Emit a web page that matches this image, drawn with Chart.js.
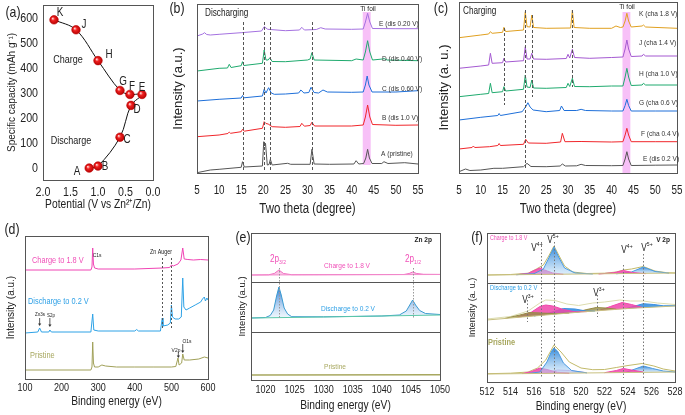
<!DOCTYPE html>
<html><head><meta charset="utf-8">
<script src="https://cdn.jsdelivr.net/npm/chart.js@4.4.0/dist/chart.umd.min.js"></script>
<style>
html,body{margin:0;padding:0;background:#fff;}
#wrap{position:relative;width:685px;height:415px;overflow:hidden;background:#fff;}
canvas{position:absolute;left:0;top:0;}
</style></head><body><div id="wrap">
<canvas id="ca" width="685" height="415"></canvas>
<canvas id="cb" width="685" height="415"></canvas>
<canvas id="cc" width="685" height="415"></canvas>
<canvas id="cd" width="685" height="415"></canvas>
<canvas id="ce" width="685" height="415"></canvas>
<canvas id="cf" width="685" height="415"></canvas>
</div>
<script>
// ---------------- DATA ----------------
// (a) capacity vs potential
const capLabels = ['A','B','C','D','E','F','G','H','J','K'];
const capPotential = [1.16, 1.0, 0.6, 0.4, 0.2, 0.42, 0.6, 1.0, 1.4, 1.8];
const capCapacity  = [0, 8, 124, 252, 296, 296, 312, 432, 556, 596];
const aXTicks = [2.0, 1.5, 1.0, 0.5, 0.0];
const aYTicks = [0, 100, 200, 300, 400, 500, 600];

// (b) XRD discharging (2theta, intensity a.u.)
const bA = [[5,0.3],[8,3],[10,3.7],[15,5.7],[15.3,11.3],[15.7,6],[19.8,7],[20.1,31.3],[20.3,27],[20.5,29.7],[20.9,8],[21.3,8.5],[21.6,13.7],[22,8],[25.5,9.7],[26.2,8.7],[30.6,8.7],[31,23.7],[31.5,9],[35,8.7],[40.5,9],[41,12.3],[41.6,9],[42.7,9.5],[43.2,15],[43.6,23.7],[44,15],[44.6,9.5],[46.8,9.5],[47.3,11.3],[48.2,9.5],[52,10.3],[55,9]];
const bB = [[5,36.3],[10,38],[12,39.5],[12.3,41],[12.6,39.7],[15,41.3],[15.3,43.7],[15.7,41.8],[19.8,44.7],[20.2,51.3],[20.6,49.5],[21.1,49],[22,46.3],[25,45.7],[28.3,46.5],[28.7,49.7],[29.3,46.8],[30.6,47.5],[31,50.7],[31.6,47],[40,47],[42.6,48],[43.1,56],[43.6,68],[44.1,56],[44.7,48.5],[50,47.7],[55,48]];
const bC = [[5,72],[10,73.7],[15,75],[15.3,77.5],[15.6,75.2],[19.8,77],[20.2,83.7],[20.6,80],[21.2,85.3],[21.8,80],[22.5,78.7],[25,79],[28,80],[28.5,83],[29.2,80],[30.3,80.5],[30.8,85.7],[31.5,80.5],[32.5,80],[33.5,83],[34.5,81],[40,80.7],[42.6,81],[43.1,88],[43.5,97],[43.9,88],[44.6,81],[50,81],[55,82.3]];
const bD = [[5,102],[10,104.7],[11.9,105],[12.3,108.7],[12.7,105.5],[15,107.3],[15.3,111.3],[15.6,107.5],[19.8,109.7],[20.2,123],[20.6,113],[21.1,113],[21.5,115.3],[22,111.5],[25,111.3],[30,113],[30.6,114],[31,120.3],[31.5,113],[40,112.3],[41,114],[42.6,113],[43.1,121],[43.6,132.3],[44.1,121],[44.7,113],[47,114],[47.3,114.5],[48,113],[55,112.3]];
const bE = [[5,137],[6.3,139],[6.7,140.3],[7.2,138.5],[8,138],[10,138.7],[15,140.3],[19.6,142],[20.2,146.3],[21,143.7],[25,142.3],[28.2,143],[28.7,145.7],[29.3,143],[32,143.5],[33,145.3],[34,144],[40,143.7],[42.6,144],[43.1,151],[43.6,159.7],[44.1,151],[44.7,144.5],[50,144.3],[55,144.3]];
const bNames = ['A (pristine)','B (dis 1.0 V)','C (dis 0.60 V)','D (dis 0.40 V)','E (dis 0.20 V)'];

// (c) XRD charging
const cE = [[5,1.3],[6.5,4],[7.5,2.5],[10,3],[13,4.7],[15,4.7],[19.8,6.3],[20.6,9.7],[21.5,6.5],[25,6.3],[28.2,7],[28.7,9],[29.4,7],[32,7.2],[33,8.7],[34,7.5],[40,7.3],[42.6,7.5],[43.1,14],[43.5,21.3],[43.9,14],[44.5,7.5],[50,7.8],[55,8]];
const cF = [[5,24],[8,25.5],[8.3,27],[8.6,25.5],[12,26.3],[13.9,27.5],[14.2,29.5],[14.5,27.5],[19.8,28.7],[20.3,33.7],[20.9,30],[25,29.7],[28.3,31],[28.7,39.7],[29.3,31.3],[33,31.5],[40,31],[42.6,31.3],[43.1,38],[43.5,44.7],[43.9,38],[44.5,31.3],[50,31.3],[55,31.3]];
const cG = [[5,53],[10,55.7],[13.9,57.5],[14.2,59.5],[14.5,57.5],[19.5,61.3],[20.4,67],[20.8,70.3],[21.3,66],[22,63],[25,61.3],[28.1,62.5],[28.5,67],[29.1,62.5],[32,62.5],[33,63.7],[34,62.5],[40,62],[42.6,62],[43.1,67.5],[43.5,73.7],[43.9,67.5],[44.5,62],[50,62],[55,62]];
const cH = [[5,76.3],[10,78.7],[11.8,79.5],[12.2,89.7],[12.6,80.3],[15,81.3],[15.3,86.3],[15.7,82],[19.8,83.7],[20.2,98],[20.6,86],[21.3,85.5],[21.7,93],[22.1,85],[25,84.7],[29.6,85.5],[30,89.7],[30.4,86.5],[31,94.7],[31.5,86.5],[35,86.3],[40,87],[42.6,87],[43.1,96],[43.5,104.7],[43.9,96],[44.5,87.5],[47,88],[47.3,89.7],[47.8,88],[55,88]];
const cJ = [[5,104.7],[10,107],[11.8,108],[12.2,119.7],[12.6,109.7],[15,110.3],[15.3,114.7],[15.7,111],[19.8,112.3],[20.2,126.3],[20.6,114],[21.3,114],[21.7,119.7],[22.1,114],[25,113.7],[29.6,114.5],[30,118.7],[30.4,115],[31,123.7],[31.5,115.5],[35,114.7],[40,115.5],[42.6,116],[43.1,124],[43.5,133],[43.9,124],[44.5,116.5],[47,117],[47.3,118.7],[47.8,117],[55,117]];
const cK = [[5,135.3],[10,138],[11.8,139],[12.2,141.3],[12.6,139.7],[15,140.7],[15.3,145.7],[15.7,141.5],[19.8,143],[20.2,161.3],[20.6,146.3],[21.3,146],[21.7,158],[22.1,145.5],[25,144.7],[30.6,145],[31,163],[31.4,145.5],[35,144.7],[40,144.7],[41,147],[42,145.5],[42.6,146],[43.1,152],[43.5,159.7],[43.9,152],[44.5,146],[47,147],[47.3,148],[47.8,146],[55,144.7]];
const cNames = ['E (dis 0.2 V)','F (cha 0.4 V)','G (cha 0.6 V)','H (cha 1.0 V)','J (cha 1.4 V)','K (cha 1.8 V)'];
const xrdTicks = [5,10,15,20,25,30,35,40,45,50,55];

// (d) XPS survey (binding energy eV, intensity)
const dPristine = [[100,9],[280,9],[283,12],[285,37],[287,16],[290,12],[300,12],[310,14],[320,13],[350,12],[400,12],[450,12],[500,12],[512,12.5],[518,21],[521,14],[528,16],[531,25],[535,19],[550,19],[575,20],[590,22],[600,21]];
const dDischarge = [[100,46],[135,47],[140,51],[145,47],[165,47],[168,49],[172,47],[280,47],[285,65],[288,49],[300,48],[400,48],[405,49.5],[410,48],[470,48],[475,61],[477,53],[490,54],[497,56],[500,74],[503,62],[510,60],[520,60],[527,62],[531,101],[534,72],[540,69],[550,71],[565,74],[580,77],[585,80],[590,82],[593,78],[597,81],[600,79]];
const dCharge = [[100,109],[280,109],[283,112],[285,131],[287,115],[290,111],[300,110],[400,110],[475,111],[495,111.5],[500,114],[505,113],[518,115],[522,117],[526,119],[531,131],[535,120],[545,119.5],[560,119],[580,119.5],[600,119]];
const dTicks = [100,200,300,400,500,600];

// (e) Zn 2p
const eChargeBase = [[1017.5,105],[1050,105.5]];
const eCharge = [[1017.5,105],[1020.5,105.2],[1021.5,106.5],[1022.3,110],[1023.1,106.5],[1024.5,105.3],[1043.8,105.5],[1044.7,106.5],[1045.3,108],[1046,106.5],[1047.2,105.7],[1050,105.6]];
const eDischargeBase = [[1017.5,62],[1030,63],[1050,65]];
const eDischarge = [[1017.5,62],[1020,62.5],[1020.8,64.5],[1021.4,70],[1021.9,84],[1022.3,93],[1022.7,85],[1023.2,72],[1023.8,66],[1024.5,63.3],[1030,63.2],[1040,64],[1043,65],[1044.2,69],[1044.8,75],[1045.3,80],[1045.8,75],[1046.5,69.5],[1047.5,66.5],[1050,65.5]];
const ePristine = [[1017.5,5],[1050,5.3]];
const eTicks = [1020,1025,1030,1035,1040,1045,1050];

// (f) V 2p
const fChargeBase = [[512,107],[528,109]];
const fChargeV5a = [[514.5,107.3],[516,108.3],[516.8,113],[517.3,125],[517.7,135],[518.1,125],[518.6,114],[519.5,109],[521,108]];
const fChargeV4a = [[514.5,107.3],[515.5,108.6],[516.1,112],[516.5,114],[516.9,112],[517.6,109],[518.5,107.8]];
const fChargeV4b = [[521.5,108],[522.8,109.3],[523.6,111.5],[524.4,109.5],[525.5,108.3]];
const fChargeV5b = [[523,108.2],[524.3,110],[525.3,115],[526.3,110.5],[527.5,108.8]];
const fChargeEnv = [[512,107],[514,107.5],[515.5,108.8],[516.2,113],[516.8,117],[517.3,127],[517.7,136],[518.1,127],[518.6,116],[519.3,110],[520.5,108.5],[522,108.8],[523,110],[523.6,112],[524.3,113],[525.3,115.5],[526.3,111],[527.3,109.3],[528,109]];
const fDisBase = [[512,62],[515,65],[520,70],[524,73.5],[528,76]];
const fDisV3a = [[513.5,63.5],[514.8,67],[515.6,69.5],[516.6,69],[517.8,68.4],[519,69]];
const fDisV4a = [[514.5,64.5],[515.8,70],[516.5,75.5],[517,77],[517.6,76],[518.5,72.5],[519.5,70.2],[520.5,70.4]];
const fDisV5a = [[516,66],[517.3,69],[518.5,73.5],[519.5,73],[520.5,70.8],[521.2,71]];
const fDisV3b = [[519.5,69.5],[520.5,72.5],[521.3,74.5],[522.1,74],[523,72.8]];
const fDisV4b = [[521.5,71.3],[522.5,75.5],[523.5,79.5],[524.3,77.5],[525.2,74.6]];
const fDisV5b = [[523.8,73.3],[524.6,76],[525.3,78.3],[526.2,77.5],[527,76.2],[528,76.3]];
const fDisEnv = [[512,63],[514,65.5],[515.5,71],[516.5,79],[517,82],[517.8,81.5],[518.8,78],[519.8,76.5],[521,79],[522,80],[523.3,82],[524.2,81],[525.3,81],[526.5,79],[528,77.5]];
const fPrBase = [[512,8],[528,10]];
const fPrV5a = [[515.5,8.5],[516.5,10],[517.1,20],[517.5,31],[517.7,34],[518,31],[518.5,19],[519.2,11.5],[520.5,9.1]];
const fPrV4a = [[515,8.4],[515.8,10.5],[516.5,14],[517.1,12.5],[518,9.7],[519,8.9]];
const fPrSat = [[516.8,8.6],[518,12],[519,11.5],[520.5,9.3]];
const fPrV4b = [[522,9.3],[523,11.5],[523.6,13.5],[524.3,12],[525.3,10]];
const fPrV5b = [[523.8,9.5],[524.6,13],[525.3,16],[526.1,13.5],[527,11],[528,10]];
const fPrEnv = [[512,8.3],[514,8.8],[515.5,10],[516.3,14],[517,22],[517.7,37],[518.3,30],[519,20],[520,14],[521,12.3],[522,12.5],[523,14.5],[524,16.5],[525.2,18.5],[526.2,16],[527,13],[528,11]];
const fTicks = [512,514,516,518,520,522,524,526,528];

// ---------------- RENDER ----------------
const FONT = '"Liberation Sans",Arial,sans-serif';
const SX = 0.82; // horizontal text compression (narrow lettering of the figure)
(function(){
  const P = CanvasRenderingContext2D.prototype, ft = P.fillText;
  P.fillText = function(t, x, y, mw){
    const m = this.getTransform();
    if (Math.abs(m.b) > 1e-6 || Math.abs(m.c) > 1e-6) return mw === undefined ? ft.call(this, t, x, y) : ft.call(this, t, x, y, mw);
    this.save(); this.translate(x, y); this.scale(SX, 1);
    if (mw === undefined) ft.call(this, t, 0, 0); else ft.call(this, t, 0, 0, mw / SX);
    this.restore();
  };
})();
Chart.defaults.font.family = FONT;
Chart.defaults.color = '#222';
const W = 685, H = 415;
const pts = a => a.map(p => ({x:p[0], y:p[1]}));
const DECO = {};

function drawText(ctx, o){
  const size = o.size || 10, wt = o.bold ? 'bold ' : '';
  const segs = Array.isArray(o.t) ? o.t : [[o.t]];
  const k0 = o.rot ? 1 : SX;
  ctx.save();
  ctx.translate(o.x, o.y); if (o.rot) ctx.rotate(o.rot);
  ctx.fillStyle = o.color || '#222'; ctx.textBaseline = 'middle'; ctx.textAlign = 'left';
  const parts = segs.map(s => { const k = s[1]; const fs = k ? size*0.62 : size; ctx.font = wt+fs+'px '+FONT; return {t:s[0], k, fs, w:ctx.measureText(s[0]).width*k0}; });
  const tw = parts.reduce((a,p)=>a+p.w,0);
  let x = o.align==='left' ? 0 : o.align==='right' ? -tw : -tw/2;
  for (const p of parts){ ctx.font = wt+p.fs+'px '+FONT; const dy = p.k==='sub' ? size*0.3 : p.k==='sup' ? -size*0.33 : 0; ctx.fillText(p.t, x, dy); x += p.w; }
  ctx.restore();
}

const decoPlugin = {
  id:'deco',
  beforeDatasetsDraw(chart){
    const d = DECO[chart.canvas.id]; if (!d) return;
    const ctx = chart.ctx, xs = chart.scales.x, ys = chart.scales.y;
    (d.bands||[]).forEach(b => {
      ctx.save(); ctx.fillStyle = b.color;
      const x1 = xs.getPixelForValue(b.x1), x2 = xs.getPixelForValue(b.x2);
      const y1 = ys.getPixelForValue(b.y1), y2 = ys.getPixelForValue(b.y2);
      ctx.fillRect(x1, y1, x2-x1, y2-y1); ctx.restore();
    });
  },
  afterDatasetsDraw(chart){
    const d = DECO[chart.canvas.id]; if (!d) return;
    const ctx = chart.ctx, xs = chart.scales.x, ys = chart.scales.y, ca = chart.chartArea;
    (d.vlines||[]).forEach(v => {
      ctx.save(); ctx.strokeStyle = v.color || '#555'; ctx.lineWidth = 1; ctx.setLineDash(v.dash || [3,2]);
      const x = Math.round(xs.getPixelForValue(v.x)) + 0.5;
      ctx.beginPath(); ctx.moveTo(x, ys.getPixelForValue(v.y1)); ctx.lineTo(x, ys.getPixelForValue(v.y2)); ctx.stroke(); ctx.restore();
    });
    (d.hlines||[]).forEach(h => {
      ctx.save(); ctx.strokeStyle = h.color || '#555'; ctx.lineWidth = 1;
      const y = Math.round(ys.getPixelForValue(h.y)) + 0.5;
      ctx.beginPath(); ctx.moveTo(ca.left, y); ctx.lineTo(ca.right, y); ctx.stroke(); ctx.restore();
    });
    (d.arrows||[]).forEach(a => {
      ctx.save(); ctx.strokeStyle = '#333'; ctx.fillStyle = '#333'; ctx.lineWidth = 0.8;
      const x = xs.getPixelForValue(a.x), y1 = ys.getPixelForValue(a.y1), y2 = ys.getPixelForValue(a.y2);
      ctx.beginPath(); ctx.moveTo(x, y1); ctx.lineTo(x, y2-2); ctx.stroke();
      ctx.beginPath(); ctx.moveTo(x-1.6, y2-2.5); ctx.lineTo(x+1.6, y2-2.5); ctx.lineTo(x, y2); ctx.closePath(); ctx.fill();
      ctx.restore();
    });
  },
  afterDraw(chart){
    const d = DECO[chart.canvas.id]; if (!d) return;
    const ctx = chart.ctx, ca = chart.chartArea;
    ctx.save(); ctx.strokeStyle = '#555'; ctx.lineWidth = 1;
    ctx.strokeRect(Math.round(ca.left)+0.5, Math.round(ca.top)+0.5, Math.round(ca.right-ca.left), Math.round(ca.bottom-ca.top));
    ctx.restore();
    (d.texts||[]).forEach(t => drawText(ctx, t));
  }
};
Chart.register(decoPlugin);

function mk(id, r, o){
  return new Chart(document.getElementById(id), {
    type:'line',
    data:{datasets:o.datasets},
    options:{
      responsive:false, animation:false, devicePixelRatio:1,
      layout:{padding:{left:r.x0-o.wy, top:r.y0, right:W-r.x1, bottom:H-r.y1-o.hx}},
      plugins:{legend:{display:false}, tooltip:{enabled:false}},
      elements:{point:{radius:0}, line:{borderWidth:1, tension:0}},
      scales:{
        x:{type:'linear', min:o.xmin, max:o.xmax, reverse:!!o.xrev,
          grid:{display:false, drawTicks:false}, border:{display:false},
          ticks:{padding:o.xpad, font:{size:o.xfs}, color:'#222', maxRotation:0, autoSkip:false, callback:o.xcb || (v => String(v))},
          title:{display:true, text:o.xtitle, font:{size:o.xtfs, lineHeight:1}, padding:0, color:'#222'},
          afterBuildTicks:s => { s.ticks = o.xticks.map(v => ({value:v})); },
          afterFit:s => { s.height = o.hx; s.paddingLeft = 0; s.paddingRight = 0; }},
        y:{type:'linear', min:o.ymin, max:o.ymax,
          grid:{display:false, drawTicks:false}, border:{display:false},
          ticks:{display:!!o.yticks, padding:5, font:{size:o.yfs || 13}, color:'#222', autoSkip:false},
          title:{display:true, text:o.ytitle, font:{size:o.ytfs, lineHeight:1}, padding:0, color:'#222'},
          afterBuildTicks:s => { if (o.yticks) s.ticks = o.yticks.map(v => ({value:v})); },
          afterFit:s => { s.width = o.wy; s.paddingTop = 0; s.paddingBottom = 0; }}
      }
    }
  });
}

function vgrad(c1, c2){
  return (ctx) => {
    const ch = ctx.chart; if (!ch.chartArea || !ctx.dataset) return c2;
    const ys = ch.scales.y; const vals = ctx.dataset.data.map(p => p.y);
    const y0 = ys.getPixelForValue(Math.max(...vals)), y1 = ys.getPixelForValue(Math.min(...vals));
    if (!isFinite(y0) || !isFinite(y1)) return c2;
    const g = ch.ctx.createLinearGradient(0, y0, 0, y1);
    g.addColorStop(0, c1); g.addColorStop(1, c2); return g;
  };
}
// shaded red sphere for the capacity points
function sphere(ctx){
  const ch = ctx.chart;
  if (!ctx.parsed || !ch.scales || !ch.scales.x || !ch.chartArea) return '#e8141c';
  const px = ch.scales.x.getPixelForValue(ctx.parsed.x), py = ch.scales.y.getPixelForValue(ctx.parsed.y);
  if (!isFinite(px) || !isFinite(py)) return '#e8141c';
  const g = ch.ctx.createRadialGradient(px-1.4, py-1.4, 0.3, px, py, 4.6);
  g.addColorStop(0, '#ffd0d0'); g.addColorStop(0.35, '#f02020'); g.addColorStop(1, '#b00000');
  return g;
}

// ---- (a)
DECO.ca = {texts:[
  {t:'(a)', x:13, y:13, size:15},
  {t:'A', x:77, y:172, size:12},{t:'B', x:105, y:167, size:12},{t:'C', x:127, y:140, size:12},
  {t:'D', x:137, y:110, size:12},{t:'E', x:142, y:88, size:12},{t:'F', x:132, y:87, size:12},
  {t:'G', x:123, y:82, size:12},{t:'H', x:109, y:55, size:12},{t:'J', x:84, y:25, size:12},{t:'K', x:60, y:13, size:12},
  {t:'Charge', x:68, y:60, size:11},{t:'Discharge', x:71, y:141, size:11}
]};
mk('ca', {x0:43, y0:3, x1:153, y1:180}, {
  datasets:[{data:capPotential.map((v,i)=>({x:v, y:capCapacity[i]})), borderColor:'#111', borderWidth:1, tension:0.35,
    pointRadius:4.3, pointBackgroundColor:sphere, pointBorderColor:'#c00000', pointBorderWidth:0.6}],
  xmin:0, xmax:2, xrev:true, xticks:aXTicks, xcb:v => Number(v).toFixed(1), xfs:13, xpad:5,
  xtitle:'Potential (V vs Zn²⁺/Zn)', xtfs:12.5, hx:31,
  ymin:-48, ymax:656, yticks:aYTicks, yfs:13, ytitle:'Specific capacity (mAh g⁻¹)', ytfs:10, wy:36
});

// ---- (b)
const bColors = ['#555555','#f0262b','#1e6fd9','#1faa6e','#a471e0'];
DECO.cb = {
  bands:[{x1:42.5, x2:44.3, y1:161, y2:8, color:'rgba(240,140,240,0.55)'}],
  vlines:[{x:15.3,y1:151,y2:3},{x:20.2,y1:151,y2:3},{x:21.6,y1:151,y2:3},{x:31.0,y1:151,y2:3}],
  texts:[
    {t:'(b)', x:177, y:9, size:15},
    {t:'Discharging', x:205, y:13, size:10, align:'left'},
    {t:'Ti foil', x:368, y:9, size:8},
    {t:bNames[0], x:381, y:154, size:8, align:'left', color:'#333'},
    {t:bNames[1], x:382, y:118, size:8, align:'left', color:'#333'},
    {t:bNames[2], x:382, y:89, size:8, align:'left', color:'#333'},
    {t:bNames[3], x:382, y:59, size:8, align:'left', color:'#333'},
    {t:bNames[4], x:379, y:24, size:8, align:'left', color:'#333'}
  ]};
mk('cb', {x0:197, y0:4, x1:418, y1:173}, {
  datasets:[bA,bB,bC,bD,bE].map((a,i)=>({data:pts(a), borderColor:bColors[i], borderWidth:1})),
  xmin:5, xmax:55, xticks:xrdTicks, xfs:12, xpad:10, xtitle:'Two theta (degree)', xtfs:14, hx:43,
  ymin:0, ymax:169, ytitle:'Intensity (a.u.)', ytfs:13, wy:25.5
});

// ---- (c)
const cColors = ['#555555','#f0262b','#1e6fd9','#1faa6e','#a459d1','#e0a020'];
DECO.cc = {
  bands:[{x1:42.5, x2:44.3, y1:161, y2:0, color:'rgba(240,140,240,0.55)'}],
  vlines:[{x:15.3,y1:145,y2:68},{x:20.2,y1:163,y2:3},{x:21.7,y1:158,y2:76},{x:31.0,y1:163,y2:86}],
  texts:[
    {t:'(c)', x:441, y:9, size:15},
    {t:'Charging', x:463, y:11, size:10, align:'left'},
    {t:'Ti foil', x:627, y:7, size:8},
    {t:cNames[0], x:643, y:159, size:8, align:'left', color:'#333'},
    {t:cNames[1], x:641, y:134, size:8, align:'left', color:'#333'},
    {t:cNames[2], x:639, y:103, size:8, align:'left', color:'#333'},
    {t:cNames[3], x:639, y:74, size:8, align:'left', color:'#333'},
    {t:cNames[4], x:639, y:43, size:8, align:'left', color:'#333'},
    {t:cNames[5], x:639, y:14, size:8, align:'left', color:'#333'}
  ]};
mk('cc', {x0:459, y0:2, x1:677, y1:173}, {
  datasets:[cE,cF,cG,cH,cJ,cK].map((a,i)=>({data:pts(a), borderColor:cColors[i], borderWidth:1})),
  xmin:5, xmax:55, xticks:xrdTicks, xfs:12, xpad:10, xtitle:'Two theta (degree)', xtfs:14, hx:43,
  ymin:0, ymax:171, ytitle:'Intensity (a. u.)', ytfs:13, wy:21.5
});

// ---- (d)
DECO.cd = {
  vlines:[{x:475,y1:121,y2:49,dash:[2,2]},{x:500,y1:121,y2:49,dash:[2,2]}],
  arrows:[{x:140,y1:61,y2:53},{x:168,y1:61,y2:52},{x:531,y1:35,y2:26},{x:519,y1:27,y2:21}],
  texts:[
    {t:'(d)', x:12, y:230, size:15},
    {t:'C1s', x:97, y:255, size:6},
    {t:'Charge to 1.8 V', x:32, y:261, size:9, align:'left', color:'#f050b8'},
    {t:'Zn Auger', x:150, y:252, size:6.5, align:'left'},
    {t:'Discharge to 0.2 V', x:28, y:302, size:9, align:'left', color:'#2ea0e6'},
    {t:'Zn3s', x:40, y:314, size:5.5},{t:'S2p', x:51, y:315, size:5.5},
    {t:'Pristine', x:30, y:356, size:9, align:'left', color:'#a8a860'},
    {t:'V2p', x:176, y:350, size:6},{t:'O1s', x:187, y:341, size:6}
  ]};
mk('cd', {x0:25, y0:236, x1:208, y1:379}, {
  datasets:[
    {data:pts(dCharge), borderColor:'#f044b4', borderWidth:1},
    {data:pts(dDischarge), borderColor:'#2ea2e6', borderWidth:1},
    {data:pts(dPristine), borderColor:'#a0a058', borderWidth:1}
  ],
  xmin:100, xmax:600, xticks:dTicks, xfs:11, xpad:2.5, xtitle:'Binding energy (eV)', xtfs:12.5, hx:29,
  ymin:0, ymax:143, ytitle:'Intensity (a.u.)', ytfs:10, wy:19
});

// ---- (e)
DECO.ce = {
  hlines:[{y:98},{y:48}],
  vlines:[{x:1022.3,y1:112,y2:62,dash:[1.5,1.5],color:'#999'},{x:1045.3,y1:112,y2:62,dash:[1.5,1.5],color:'#999'}],
  texts:[
    {t:'(e)', x:243, y:238, size:15},
    {t:'Zn 2p', x:432, y:240, size:8, align:'right', bold:true},
    {t:[['2p'],['3/2','sub']], x:278, y:259, size:10, color:'#f050b8'},
    {t:[['2p'],['1/2','sub']], x:413, y:259, size:10, color:'#f050b8'},
    {t:'Charge to 1.8 V', x:347, y:266, size:8, color:'#f050b8'},
    {t:'Discharge to 0.2 V', x:348, y:309, size:8, color:'#2ea0e6'},
    {t:'Pristine', x:335, y:367, size:8, color:'#a8a860'}
  ]};
mk('ce', {x0:251, y0:233, x1:440, y1:380}, {
  datasets:[
    {data:pts(eChargeBase), borderColor:'#f28ccc', borderWidth:1},
    {data:pts(eCharge), borderColor:'#f06cc0', borderWidth:1, fill:0, backgroundColor:'rgba(245,150,210,0.55)'},
    {data:pts(eDischargeBase), borderColor:'#5cc8a8', borderWidth:1},
    {data:pts(eDischarge), borderColor:'#3a9ad0', borderWidth:1, fill:2, backgroundColor:vgrad('rgba(30,110,205,0.95)','rgba(205,228,248,0.35)')},
    {data:pts(ePristine), borderColor:'#a8a860', borderWidth:1.5}
  ],
  xmin:1017.5, xmax:1050, xticks:eTicks, xfs:11, xpad:3.5, xtitle:'Binding energy (eV)', xtfs:12.5, hx:32,
  ymin:0, ymax:147, ytitle:'Intensity (a.u.)', ytfs:9.5, wy:13.75
});

// ---- (f)
const fBlue = vgrad('rgba(40,130,215,0.95)','rgba(190,222,248,0.5)');
const fPink = 'rgba(240,70,170,0.85)';
const fOlive = 'rgba(150,140,70,0.8)';
DECO.cf = {
  hlines:[{y:99},{y:50}],
  vlines:[
    {x:516.6,y1:140,y2:4,dash:[1.5,2],color:'#777'},{x:517.7,y1:140,y2:4,dash:[1.5,2],color:'#777'},
    {x:523.6,y1:117,y2:4,dash:[1.5,2],color:'#777'},{x:525.3,y1:128,y2:4,dash:[1.5,2],color:'#777'},
    {x:515.4,y1:82,y2:60,dash:[1.5,2],color:'#777'},{x:521.4,y1:87,y2:65,dash:[1.5,2],color:'#777'}
  ],
  texts:[
    {t:'(f)', x:477, y:238, size:15},
    {t:'V 2p', x:670, y:240, size:8, align:'right', bold:true},
    {t:'Charge to 1.8 V', x:490, y:238, size:6.5, align:'left', color:'#f050b8'},
    {t:[['V'],['5+','sup']], x:553, y:240, size:10},
    {t:[['V'],['4+','sup']], x:537, y:248, size:10},
    {t:[['V'],['4+','sup']], x:627, y:250, size:10},
    {t:[['V'],['5+','sup']], x:647, y:248, size:10},
    {t:'Discharge to 0.2 V', x:490, y:288, size:7, align:'left', color:'#2ea0e6'},
    {t:[['V'],['3+','sup']], x:528, y:300, size:10},
    {t:[['V'],['3+','sup']], x:599, y:293, size:10},
    {t:'Pristine', x:488, y:343, size:9, align:'left', color:'#a8a860', bold:true}
  ]};
mk('cf', {x0:487, y0:233, x1:675, y1:382}, {
  datasets:[
    {data:pts(fChargeBase), borderColor:'#c8c080', borderWidth:1},
    {data:pts(fDisBase), borderColor:'#c8c080', borderWidth:1},
    {data:pts(fPrBase), borderColor:'#c8c080', borderWidth:1},
    {data:pts(fChargeV5a), borderColor:'#4a9ae0', fill:0, backgroundColor:fBlue},
    {data:pts(fChargeV4a), borderColor:'#f046aa', fill:0, backgroundColor:fPink},
    {data:pts(fChargeV4b), borderColor:'#f046aa', fill:0, backgroundColor:fPink},
    {data:pts(fChargeV5b), borderColor:'#4a9ae0', fill:0, backgroundColor:fBlue},
    {data:pts(fDisV3a), borderColor:'#968c46', fill:1, backgroundColor:fOlive},
    {data:pts(fDisV4a), borderColor:'#f046aa', fill:1, backgroundColor:fPink},
    {data:pts(fDisV5a), borderColor:'#3a8fe0', fill:1, backgroundColor:'rgba(45,140,225,0.85)'},
    {data:pts(fDisV3b), borderColor:'#968c46', fill:1, backgroundColor:fOlive},
    {data:pts(fDisV4b), borderColor:'#f046aa', fill:1, backgroundColor:fPink},
    {data:pts(fDisV5b), borderColor:'#3a8fe0', fill:1, backgroundColor:'rgba(45,140,225,0.85)'},
    {data:pts(fPrV5a), borderColor:'#4a9ae0', fill:2, backgroundColor:fBlue},
    {data:pts(fPrV4a), borderColor:'#f046aa', fill:2, backgroundColor:fPink},
    {data:pts(fPrSat), borderColor:'#c8a0e0', fill:2, backgroundColor:'rgba(200,160,230,0.5)'},
    {data:pts(fPrV4b), borderColor:'#f046aa', fill:2, backgroundColor:fPink},
    {data:pts(fPrV5b), borderColor:'#4a9ae0', fill:2, backgroundColor:fBlue},
    {data:pts(fChargeEnv), borderColor:'#c2ba6a', borderWidth:1},
    {data:pts(fDisEnv), borderColor:'#dcdcae', borderWidth:1},
    {data:pts(fPrEnv), borderColor:'#c2ba6a', borderWidth:1}
  ],
  xmin:512, xmax:528, xticks:fTicks, xfs:11, xpad:3.5, xtitle:'Binding energy (eV)', xtfs:12.5, hx:31,
  ymin:0, ymax:149, ytitle:'Intensity (a. u.)', ytfs:9, wy:18.5
});
</script>
</body></html>
